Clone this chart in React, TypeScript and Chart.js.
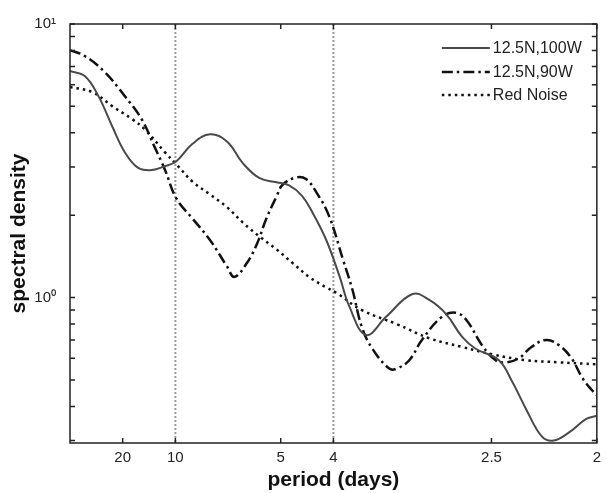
import React, { useEffect, useRef } from "react";
import { Chart, registerables } from "chart.js";

Chart.register(...registerables);

// frequency (cycles/day) and spectral density values
const solidFreq = [0, 0.014, 0.027, 0.04, 0.052, 0.064, 0.076, 0.09, 0.101, 0.116, 0.133, 0.149, 0.164, 0.18, 0.196, 0.208, 0.22, 0.23, 0.243, 0.256, 0.265, 0.281, 0.3, 0.325, 0.341, 0.357, 0.372, 0.385, 0.407, 0.42, 0.433, 0.448, 0.459, 0.473, 0.49, 0.5];
const solidValues = [6.73, 6.45, 5.45, 4.23, 3.4, 2.99, 2.92, 3.02, 3.15, 3.64, 3.95, 3.72, 3.1, 2.73, 2.64, 2.57, 2.36, 2.05, 1.63, 1.19, 0.93, 0.73, 0.85, 1.03, 0.98, 0.87, 0.72, 0.65, 0.59, 0.49, 0.39, 0.31, 0.3, 0.32, 0.36, 0.37];

const dashFreq = [0, 0.014, 0.033, 0.052, 0.068, 0.08, 0.09, 0.101, 0.116, 0.133, 0.149, 0.156, 0.168, 0.178, 0.186, 0.196, 0.202, 0.215, 0.224, 0.234, 0.246, 0.259, 0.268, 0.277, 0.287, 0.303, 0.31, 0.322, 0.334, 0.353, 0.366, 0.376, 0.391, 0.404, 0.414, 0.426, 0.438, 0.452, 0.464, 0.476, 0.486, 0.495, 0.5];
const dashValues = [8.03, 7.64, 6.67, 5.45, 4.49, 3.57, 2.94, 2.3, 1.95, 1.62, 1.3, 1.19, 1.34, 1.59, 1.93, 2.34, 2.59, 2.75, 2.71, 2.42, 1.98, 1.38, 1.07, 0.78, 0.65, 0.55, 0.55, 0.59, 0.7, 0.85, 0.88, 0.83, 0.67, 0.59, 0.58, 0.6, 0.66, 0.7, 0.67, 0.6, 0.51, 0.46, 0.44];

const noiseFreq = [0, 0.021, 0.04, 0.059, 0.071, 0.09, 0.101, 0.116, 0.133, 0.149, 0.164, 0.18, 0.196, 0.211, 0.227, 0.243, 0.253, 0.277, 0.31, 0.341, 0.372, 0.401, 0.433, 0.464, 0.5];
const noiseValues = [5.88, 5.64, 5.01, 4.49, 4.12, 3.4, 3.07, 2.66, 2.38, 2.14, 1.88, 1.67, 1.5, 1.34, 1.19, 1.09, 1.04, 0.9, 0.8, 0.71, 0.66, 0.62, 0.59, 0.58, 0.57];

const seriesLabels = ["12.5N,100W", "12.5N,90W", "Red Noise"];

const xTickFreqs = [0.05, 0.1, 0.2, 0.25, 0.4, 0.5];
const xTickLabels = ["20", "10", "5", "4", "2.5", "2"];
const markerFreqs = [0.1, 0.25];

const yTickValues = [0.3, 0.4, 0.5, 0.6, 0.7, 0.8, 0.9, 1, 2, 3, 4, 5, 6, 7, 8, 9, 10];
const yLabelValues = [1, 10];
const yLabelTexts = ["10\u2070", "10\u00B9"];

const FONT = "'Liberation Sans', Arial, sans-serif";

const toPoints = (xs: number[], ys: number[]) => xs.map((x, i) => ({ x, y: ys[i] }));

const framePlugin = {
  id: "framePlugin",
  beforeDatasetsDraw(chart: any) {
    const { ctx, chartArea: a, scales } = chart;
    const x = scales.x;
    ctx.save();
    ctx.strokeStyle = "#9a9a9a";
    ctx.lineWidth = 2;
    ctx.setLineDash([2, 2]);
    markerFreqs.forEach((f) => {
      const px = x.getPixelForValue(f);
      ctx.beginPath();
      ctx.moveTo(px, a.top);
      ctx.lineTo(px, a.bottom);
      ctx.stroke();
    });
    ctx.restore();
  },
  afterDatasetsDraw(chart: any) {
    const { ctx, chartArea: a, scales } = chart;
    const x = scales.x;
    const y = scales.y;
    const tl = 5;
    ctx.save();
    ctx.strokeStyle = "#222";
    ctx.lineWidth = 1.5;
    ctx.setLineDash([]);
    ctx.strokeRect(a.left, a.top, a.right - a.left, a.bottom - a.top);
    ctx.beginPath();
    xTickFreqs.forEach((f) => {
      const px = x.getPixelForValue(f);
      ctx.moveTo(px, a.bottom);
      ctx.lineTo(px, a.bottom - tl);
      ctx.moveTo(px, a.top);
      ctx.lineTo(px, a.top + tl);
    });
    yTickValues.forEach((v) => {
      const py = y.getPixelForValue(v);
      ctx.moveTo(a.left, py);
      ctx.lineTo(a.left + tl, py);
      ctx.moveTo(a.right, py);
      ctx.lineTo(a.right - tl, py);
    });
    ctx.stroke();
    ctx.restore();
  },
  afterDraw(chart: any) {
    const { ctx, chartArea: a } = chart;
    ctx.save();
    const lx0 = a.right - 155;
    const lx1 = a.right - 107;
    const rows = [24, 48, 71];
    chart.data.datasets.forEach((ds: any, i: number) => {
      const yy = a.top + rows[i];
      ctx.strokeStyle = ds.borderColor;
      ctx.lineWidth = ds.borderWidth;
      ctx.setLineDash(ds.borderDash || []);
      ctx.beginPath();
      ctx.moveTo(lx0, yy);
      ctx.lineTo(lx1, yy);
      ctx.stroke();
      ctx.setLineDash([]);
      ctx.fillStyle = "#222";
      ctx.font = `16px ${FONT}`;
      ctx.textBaseline = "middle";
      ctx.textAlign = "left";
      ctx.fillText(ds.label, lx1 + 3, yy + 1);
    });
    ctx.restore();
  },
};

export default function App() {
  const ref = useRef<HTMLCanvasElement | null>(null);
  useEffect(() => {
    if (!ref.current) return;
    const common = { pointRadius: 0, tension: 0.4, fill: false };
    const chart = new Chart(ref.current, {
      type: "line",
      data: {
        datasets: [
          {
            ...common,
            label: seriesLabels[0],
            data: toPoints(solidFreq, solidValues),
            borderColor: "#4a4a4a",
            borderWidth: 2,
            borderDash: [],
          },
          {
            ...common,
            label: seriesLabels[1],
            data: toPoints(dashFreq, dashValues),
            borderColor: "#111",
            borderWidth: 2.5,
            borderDash: [11, 4, 2.5, 4],
          },
          {
            ...common,
            label: seriesLabels[2],
            data: toPoints(noiseFreq, noiseValues),
            borderColor: "#111",
            borderWidth: 2.5,
            borderDash: [2.5, 4],
          },
        ],
      },
      options: {
        animation: false,
        responsive: false,
        maintainAspectRatio: false,
        layout: { padding: { top: 24, right: 9, left: 0, bottom: 0 } },
        plugins: { legend: { display: false }, tooltip: { enabled: false } },
        scales: {
          x: {
            type: "linear",
            min: 0,
            max: 0.5,
            afterBuildTicks: (s: any) => {
              s.ticks = xTickFreqs.map((v) => ({ value: v }));
            },
            afterFit: (s: any) => {
              s.height = 50;
            },
            ticks: {
              autoSkip: false,
              maxRotation: 0,
              padding: 6,
              color: "#222",
              font: { family: FONT, size: 15 },
              callback: (v: any, i: number) => xTickLabels[i],
            },
            grid: { display: false, drawTicks: false },
            border: { display: false },
            title: {
              display: true,
              text: "period (days)",
              color: "#111",
              font: { family: FONT, size: 21, weight: "bold" },
              padding: { top: 0, bottom: 0 },
            },
          },
          y: {
            type: "logarithmic",
            min: 0.294,
            max: 10,
            afterBuildTicks: (s: any) => {
              s.ticks = yTickValues.map((v) => ({ value: v }));
            },
            afterFit: (s: any) => {
              s.width = 70;
            },
            ticks: {
              autoSkip: false,
              padding: 14,
              color: "#222",
              font: { family: FONT, size: 15 },
              callback: (v: any) => {
                const k = yLabelValues.indexOf(Number(v));
                return k >= 0 ? yLabelTexts[k] : "";
              },
            },
            grid: { display: false, drawTicks: false },
            border: { display: false },
            title: {
              display: true,
              text: "spectral density",
              color: "#111",
              font: { family: FONT, size: 21, weight: "bold" },
              padding: { top: 7, bottom: 0 },
            },
          },
        },
      },
      plugins: [framePlugin],
    } as any);
    return () => chart.destroy();
  }, []);
  return (
    <div style={{ position: "fixed", left: 0, top: 0, width: 607, height: 493, background: "#fff" }}>
      <canvas ref={ref} width={607} height={493} style={{ width: 607, height: 493, display: "block" }} />
    </div>
  );
}
